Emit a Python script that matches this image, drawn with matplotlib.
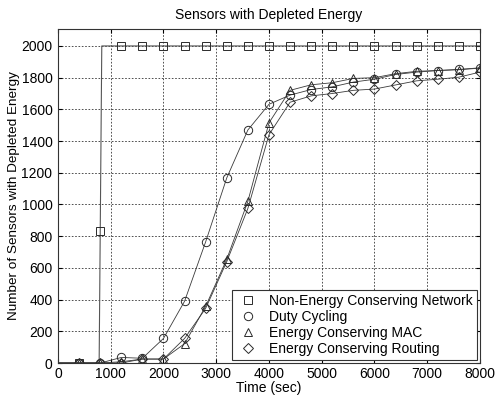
import matplotlib
matplotlib.use("Agg")
import matplotlib.pyplot as plt

plt.rcParams['font.family'] = ['Liberation Sans', 'DejaVu Sans']

# sample times (markers every 400 s, line also starts at 0)
times = [0, 400, 800, 1200, 1600, 2000, 2400, 2800, 3200, 3600, 4000,
         4400, 4800, 5200, 5600, 6000, 6400, 6800, 7200, 7600, 8000]

non_energy = [0, 0, 830, 2000, 2000, 2000, 2000, 2000, 2000, 2000, 2000,
              2000, 2000, 2000, 2000, 2000, 2000, 2000, 2000, 2000, 2000]
# the non-energy curve jumps almost vertically near 800 s
non_energy_line_t = [0, 780, 830, 8000]
non_energy_line_v = [0, 0, 2000, 2000]

duty_cycling = [0, 0, 0, 35, 30, 155, 390, 765, 1168, 1470, 1632,
                1690, 1725, 1742, 1772, 1790, 1820, 1835, 1845, 1852, 1862]
energy_mac = [0, 0, 0, 8, 25, 25, 122, 358, 655, 1020, 1515,
              1720, 1755, 1768, 1795, 1800, 1825, 1840, 1845, 1850, 1860]
energy_routing = [0, 0, 0, 0, 25, 25, 155, 345, 640, 975, 1440,
                  1645, 1685, 1700, 1720, 1728, 1754, 1780, 1790, 1803, 1835]

labels = ['Non-Energy Conserving Network', 'Duty Cycling',
          'Energy Conserving MAC', 'Energy Conserving Routing']

fig = plt.figure(figsize=(4.97, 3.97), dpi=100)
ax = fig.add_axes([0.1167, 0.0856, 0.849, 0.8414])

lc = '#3a3a3a'
mc = '#2a2a2a'
ms = 6
fs = 10

# lines
ax.plot(non_energy_line_t, non_energy_line_v, color='#555555', lw=0.8)
ax.plot(times, duty_cycling, color=lc, lw=0.6)
ax.plot(times, energy_mac, color=lc, lw=0.6)
ax.plot(times, energy_routing, color=lc, lw=0.6)

# markers (from 400 s on)
ax.plot(times[1:], non_energy[1:], 's', ls='none', ms=ms - 0.5, mfc='none', mec=mc, mew=0.7, label=labels[0])
ax.plot(times[1:], duty_cycling[1:], 'o', ls='none', ms=ms, mfc='none', mec=mc, mew=0.7, label=labels[1])
ax.plot(times[1:], energy_mac[1:], '^', ls='none', ms=ms, mfc='none', mec=mc, mew=0.7, label=labels[2])
ax.plot(times[1:], energy_routing[1:], 'D', ls='none', ms=ms - 1, mfc='none', mec=mc, mew=0.7, label=labels[3])

ax.set_xlim(0, 8000)
ax.set_ylim(0, 2107)
ax.set_xticks(range(0, 8001, 1000))
ax.set_yticks(range(0, 2001, 200))
ax.tick_params(direction='in', length=3, labelsize=fs, top=True, right=True)
ax.tick_params(axis='x', pad=3)
ax.tick_params(axis='y', pad=4)
ax.grid(True, color='#333333', linestyle=(0, (2, 2)), linewidth=0.6)
for s in ax.spines.values():
    s.set_linewidth(0.8)
    s.set_color('#333333')

ax.set_title('Sensors with Depleted Energy', fontsize=fs, pad=7)
ax.set_xlabel('Time (sec)', fontsize=fs, labelpad=0)
ax.set_ylabel('Number of Sensors with Depleted Energy', fontsize=9.7, labelpad=1)

leg = ax.legend(loc='lower right', fontsize=fs, fancybox=False, framealpha=1,
                edgecolor='#333333', handlelength=1.8, handletextpad=0.6,
                borderaxespad=0.2, labelspacing=0.15, borderpad=0.3)
leg.get_frame().set_linewidth(0.8)

fig.savefig('out.png', dpi=100)
